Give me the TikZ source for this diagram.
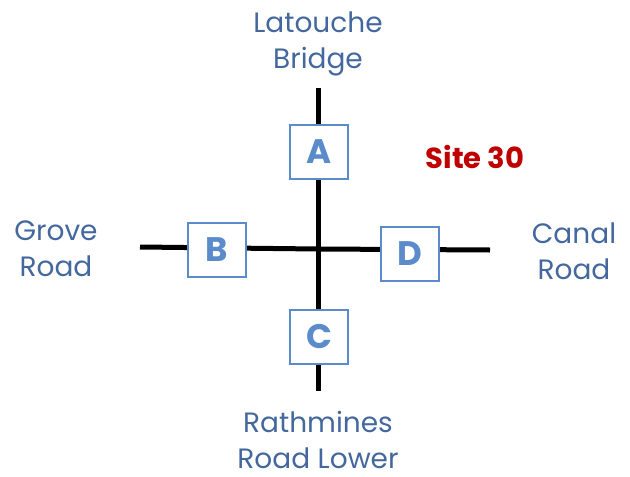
\documentclass[tikz,border=0pt]{standalone}
\usepackage{fontspec}
\setmainfont{Poppins}
\usepackage{xcolor}
\usetikzlibrary{positioning}
\definecolor{roadblue}{HTML}{44689E}
\definecolor{boxblue}{HTML}{5B8BCB}
\definecolor{sitered}{HTML}{C00000}

\begin{document}
\begin{tikzpicture}[x=1pt,y=-1pt,
  road/.style={line width=5pt,black},
  approach/.style={draw=boxblue,line width=2pt,fill=white,minimum width=58pt,minimum height=54pt,
    inner sep=0pt,text=boxblue,font=\fontsize{34}{34}\selectfont\bfseries},
  roadname/.style={text=roadblue,align=center,font=\fontsize{28}{36}\selectfont}]
\useasboundingbox (0,0) rectangle (630,477);
% arms of the junction
\coordinate (ctr) at (318,249);
\coordinate (top) at (318,88);
\coordinate (bot) at (318,391);
\coordinate (west) at (140,247);
\coordinate (east) at (490,250);
\draw[road] (top) -- (bot);
\draw[road] (west) -- (ctr) -- (east);
% approach boxes
\node[approach] (A) at (319,152) {A};
\node[approach] (B) at (217,250) {B};
\node[approach] (C) at (319,337) {C};
\node[approach] (D) at (410,254) {D};
% road names
\node[roadname] (latouche) at (318,44) {Latouche\\Bridge};
\node[roadname] (grove) at (56,249) {Grove\\Road};
\node[roadname] (canal) at (574,251) {Canal\\Road};
\node[roadname] (rathmines) at (318,440) {Rathmines\\Road Lower};
\node[text=sitered,font=\fontsize{29}{29}\selectfont\bfseries] (site) at (475,157) {Site 30};
\end{tikzpicture}
\end{document}
